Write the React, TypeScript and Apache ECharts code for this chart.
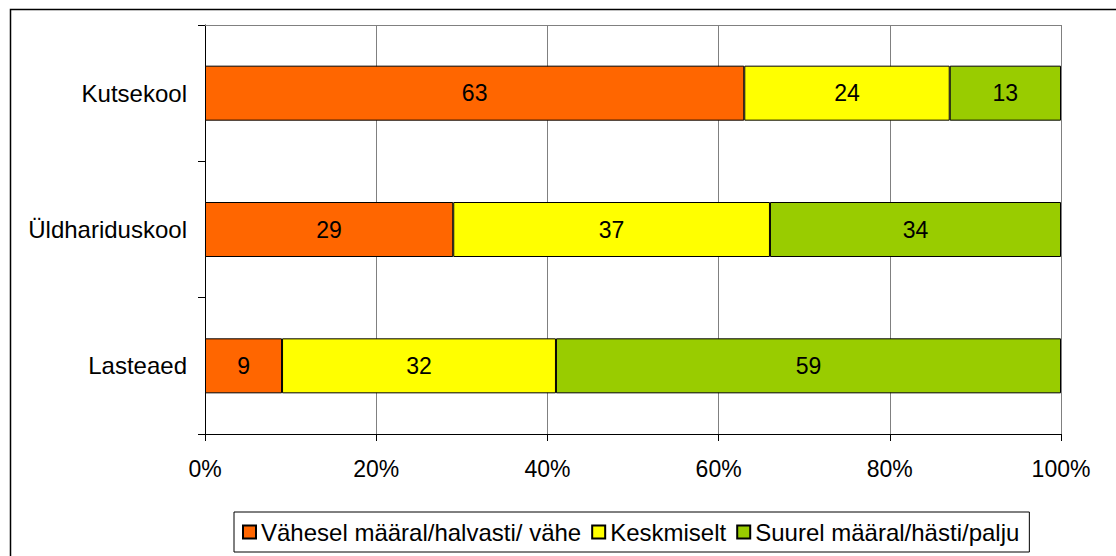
import React, { useEffect, useRef } from "react";
import * as echarts from "echarts";

const categories = ["Kutsekool", "Üldhariduskool", "Lasteaed"];
const seriesNames = ["Vähesel määral/halvasti/ vähe", "Keskmiselt", "Suurel määral/hästi/palju"];
const lowValues = [63, 29, 9];
const midValues = [24, 37, 32];
const highValues = [13, 34, 59];
const seriesColors = ["#FF6600", "#FFFF00", "#99CC00"];

const FONT = "Liberation Sans, Arial, sans-serif";

export default function App() {
  const ref = useRef<HTMLDivElement>(null);
  useEffect(() => {
    if (!ref.current) return;
    const chart = echarts.init(ref.current, null, { renderer: "svg" });
    const data = [lowValues, midValues, highValues];
    chart.setOption({
      animation: false,
      backgroundColor: "#ffffff",
      textStyle: { fontFamily: FONT },
      graphic: [
        {
          type: "rect",
          left: 8,
          top: 7,
          shape: { x: 0, y: 0, width: 1200, height: 600 },
          style: { fill: "none", stroke: "#000", lineWidth: 1.5 },
          silent: true,
        },
      ],
      grid: { left: 205, right: 55, top: 25, bottom: 122, containLabel: false },
      xAxis: [
        {
          type: "value",
          min: 0,
          max: 100,
          interval: 20,
          position: "bottom",
          axisLine: { show: true, lineStyle: { color: "#000", width: 1 } },
          axisTick: { show: true, length: 7, lineStyle: { color: "#000" } },
          splitLine: { show: true, lineStyle: { color: "#808080", width: 1 } },
          axisLabel: {
            formatter: "{value}%",
            color: "#000",
            fontSize: 23,
            fontFamily: FONT,
            margin: 23,
          },
        },
        {
          type: "value",
          min: 0,
          max: 100,
          position: "top",
          axisLine: { show: true, lineStyle: { color: "#808080", width: 1 } },
          axisTick: { show: false },
          axisLabel: { show: false },
          splitLine: { show: false },
        },
      ],
      yAxis: {
        type: "category",
        data: categories,
        inverse: true,
        axisLine: { show: true, lineStyle: { color: "#000", width: 1 } },
        axisTick: { show: true, length: 7, lineStyle: { color: "#000" } },
        splitLine: { show: false },
        axisLabel: { color: "#000", fontSize: 24, fontFamily: FONT, margin: 18 },
      },
      legend: {
        left: 234,
        top: 512,
        orient: "horizontal",
        padding: [8, 10, 8, 8],
        borderColor: "#000",
        borderWidth: 1,
        itemWidth: 13,
        itemHeight: 13,
        itemGap: 10,
        icon: "rect",
        textStyle: { color: "#000", fontSize: 24, fontFamily: FONT },
        data: seriesNames,
      },
      series: seriesNames.map((name, i) => ({
        name,
        type: "bar",
        stack: "total",
        barWidth: 55,
        xAxisIndex: 0,
        data: data[i],
        itemStyle: { color: seriesColors[i], borderColor: "#000", borderWidth: 1 },
        label: {
          show: true,
          position: "inside",
          color: "#000",
          fontSize: 23,
          fontFamily: FONT,
        },
      })),
    });
    return () => chart.dispose();
  }, []);
  return (
    <div
      ref={ref}
      style={{ position: "absolute", left: 0, top: 0, width: 1116, height: 556 }}
    />
  );
}
